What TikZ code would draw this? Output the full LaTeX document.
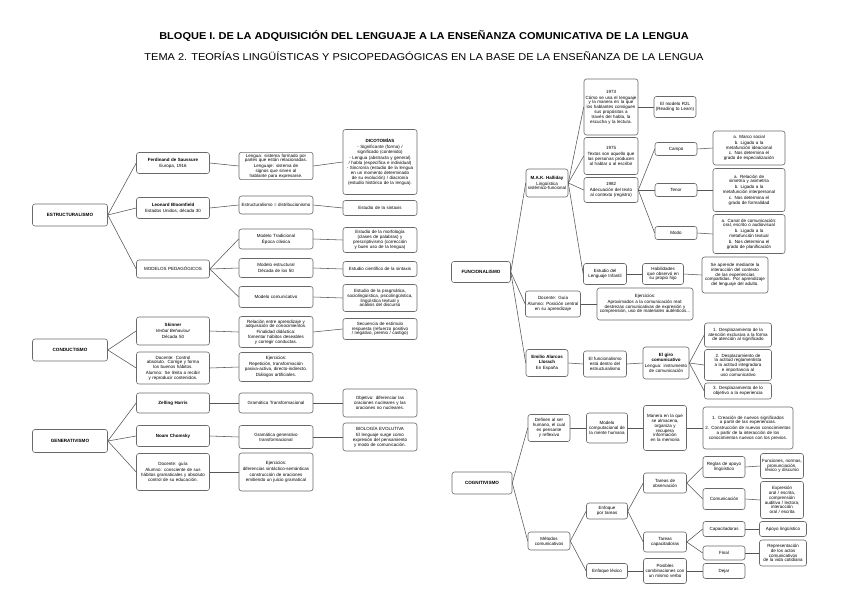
\documentclass[tikz,border=0pt]{standalone}
\usepackage{fontspec}
\setmainfont{Liberation Sans}
\newfontfamily\titulofont{Liberation Sans}[FakeStretch=1.1]
\usetikzlibrary{positioning}
\definecolor{lineagris}{RGB}{85,85,85}
\definecolor{bordegris}{RGB}{105,105,105}
\hyphenpenalty=10000

\tikzset{
    caja/.style={draw=bordegris, line width=0.6pt, rounded corners=2.5pt, fill=white,
        align=center, inner sep=1.5pt, font=\fontsize{4.5}{4.8}\selectfont},
    tronco/.style={caja, font=\fontsize{4.6}{5}\selectfont\bfseries},
    enlace/.style={draw=lineagris, line width=0.55pt},
}

\begin{document}
\begin{tikzpicture}[x=1pt, y=-1pt]
    \useasboundingbox[fill=white] (0,0) rectangle (848,599);

    % titulos
    \node (titulo) at (424,36) {\titulofont\fontsize{10}{11}\selectfont\bfseries BLOQUE I. DE LA ADQUISICIÓN DEL LENGUAJE A LA ENSEÑANZA COMUNICATIVA DE LA LENGUA};
    \node (tema) at (424,56) {\titulofont\fontsize{10}{11}\selectfont TEMA 2. TEORÍAS LINGÜÍSTICAS Y PSICOPEDAGÓGICAS EN LA BASE DE LA ENSEÑANZA DE LA LENGUA};

    % estructuralismo
    \node[tronco, text width=72pt, minimum height=22pt] (estr) at (70,215) {ESTRUCTURALISMO};
    \node[caja, text width=70pt, minimum height=21pt] (saus) at (173,163) {\textbf{Ferdinand de Saussure}\\[1pt] Europa, 1916};
    \node[caja, text width=70pt, minimum height=21pt] (bloom) at (173,208) {\textbf{Leonard Bloomfield}\\[1pt] Estados Unidos, década 30};
    \node[caja, text width=70pt, minimum height=18pt] (model) at (173,269) {MODELOS PEDAGÓGICOS};
    \node[caja, text width=71pt, minimum height=27pt] (lengua) at (276,166) {Lengua: sistema formado por partes que están relacionadas.\\[1pt] Lenguaje: sistema de signos que sirven al hablante para expresarse.};
    \node[caja, text width=71pt, minimum height=65pt] (dicot) at (380,162) {\textbf{DICOTOMÍAS}\\[1pt] - Significante (forma) / significado (contenido)\\[1pt] - Lengua (abstracta y general) / habla (específica e individual)\\[1pt] - Sincronía (estudio de la lengua en un momento determinado de su evolución) / diacronía (estudio histórico de la lengua).};
    \node[caja, text width=71pt, minimum height=18pt] (distr) at (276,205) {Estructuralismo = distribucionismo};
    \node[caja, text width=71pt, minimum height=15pt] (sintax) at (380,208) {Estudio de la sintaxis};
    \node[caja, text width=71pt, minimum height=20pt] (mtrad) at (276,239) {Modelo Tradicional\\[1pt] Época clásica};
    \node[caja, text width=71pt, minimum height=25pt] (morfo) at (380,240) {Estudio de la morfología (clases de palabras) y prescriptivismo (corrección y buen uso de la lengua)};
    \node[caja, text width=71pt, minimum height=19pt] (mestr) at (276,268) {Modelo estructural\\[1pt] Década de los 50};
    \node[caja, text width=71pt, minimum height=15pt] (cient) at (380,269) {Estudio científico de la sintaxis};
    \node[caja, text width=71pt, minimum height=21pt] (mcom) at (276,297) {Modelo comunicativo};
    \node[caja, text width=71pt, minimum height=27pt] (pragm) at (380,298) {Estudio de la pragmática, sociolingüística, psicolingüística, lingüística textual y análisis del discurso};

    % conductismo
    \node[tronco, text width=72pt, minimum height=22pt] (cond) at (70,350) {CONDUCTISMO};
    \node[caja, text width=70pt, minimum height=28pt] (skin) at (173,331) {\textbf{Skinner}\\[1pt] \textit{Verbal Behaviour}\\[1pt] Década 50};
    \node[caja, text width=70pt, minimum height=32pt] (doc1) at (173,368) {Docente: Control absoluto. Corrige y forma los buenos hábitos.\\[1pt] Alumno: Se limita a recibir y reproducir contenidos.};
    \node[caja, text width=71pt, minimum height=31pt] (rel) at (276,332) {Relación entre aprendizaje y adquisición de conocimientos.\\[1pt] Finalidad didáctica: fomentar hábitos deseables y corregir conductas.};
    \node[caja, text width=71pt, minimum height=21pt] (secu) at (380,329) {Secuencia de estímulo respuesta (refuerzo positivo / negativo, premio / castigo)};
    \node[caja, text width=71pt, minimum height=29pt] (ejer1) at (276,367) {Ejercicios:\\[1pt] Repetición, transformación pasiva-activa, directo-indirecto.\\[1pt] Diálogos artificiales.};

    % generativismo
    \node[tronco, text width=72pt, minimum height=23pt] (gener) at (70,441) {GENERATIVISMO};
    \node[caja, text width=70pt, minimum height=20pt] (harr) at (173,403) {\textbf{Zelling Harris}};
    \node[caja, text width=71pt, minimum height=20pt] (gtran) at (276,403) {Gramática Transformacional};
    \node[caja, text width=71pt, minimum height=28pt] (objet) at (380,403) {Objetivo: diferenciar las oraciones nucleares y las oraciones no nucleares.};
    \node[caja, text width=70pt, minimum height=21pt] (chom) at (173,436) {\textbf{Noam Chomsky}};
    \node[caja, text width=71pt, minimum height=23pt] (ggen) at (276,437) {Gramática generativo transformacional};
    \node[caja, text width=71pt, minimum height=28pt] (biol) at (380,437) {BIOLOGÍA EVOLUTIVA\\[1pt] El lenguaje surge como expresión del pensamiento y modo de comunicación.};
    \node[caja, text width=70pt, minimum height=37pt] (doc2) at (173,472) {Docente: guía\\[1pt] Alumno: consciente de sus hábitos gramaticales y absoluto control de su educación.};
    \node[caja, text width=71pt, minimum height=38pt] (ejer2) at (276,472) {Ejercicios:\\[1pt] diferencias sintáctico-semánticas\\[1pt] construcción de oraciones emitiendo un juicio gramatical};

    % funcionalismo
    \node[tronco, text width=56pt, minimum height=21pt] (func) at (481,272) {FUNCIONALISMO};
    \node[caja, text width=39pt, minimum height=28pt] (halli) at (547,183) {\textbf{M.A.K. Halliday}\\[1pt] Lingüística sistémico-funcional};
    \node[caja, text width=51pt, minimum height=56pt] (a1973) at (611,107) {1973\\[1pt] Cómo se usa el lenguaje y la manera en la que los hablantes consiguen sus propósitos a través del habla, la escucha y la lectura.};
    \node[caja, text width=51pt, minimum height=37pt] (a1975) at (611,156) {1975\\[1pt] Textos son aquello que las personas producen al hablar o al escribir};
    \node[caja, text width=51pt, minimum height=25pt] (a1982) at (611,190) {1982\\[1pt] Adecuación del texto al contexto (registro)};
    \node[caja, text width=39pt, minimum height=21pt] (rtl) at (675,107) {El modelo R2L (Reading to Learn)};
    \node[caja, text width=39pt, minimum height=13pt] (campo) at (676,149) {Campo};
    \node[caja, text width=39pt, minimum height=13pt] (tenor) at (676,190) {Tenor};
    \node[caja, text width=39pt, minimum height=13pt] (modo) at (676,233) {Modo};
    \node[caja, text width=69pt, minimum height=34pt] (campoD) at (749,148) {a. Marco social\\[1pt] b. Ligado a la metafunción ideacional\\[1pt] c. Nos determina el grado de especialización};
    \node[caja, text width=69pt, minimum height=43pt] (tenorD) at (749,190) {a. Relación de simetría y asimetría\\[1pt] b. Ligado a la metafunción interpersonal\\[1pt] c. Nos determina el grado de formalidad};
    \node[caja, text width=69pt, minimum height=39pt] (modoD) at (749,234) {a. Canal de comunicación: oral, escrito o audiovisual\\[1pt] b. Ligado a la metafunción textual\\[1pt] b. Nos determina el grado de planificación};
    \node[caja, text width=40pt, minimum height=21pt] (infan) at (605,274) {Estudio del Lenguaje Infantil};
    \node[caja, text width=38pt, minimum height=21pt] (habil) at (663,274) {Habilidades que observó en su propio hijo};
    \node[caja, text width=63pt, minimum height=36pt] (apren) at (735,275) {Se aprende mediante la interacción del contexto de las experiencias compartidas. Por aprendizaje del lenguaje del adulto.};
    \node[caja, text width=52pt, minimum height=26pt] (doc3) at (553,304) {Docente: Guía\\[1pt] Alumno: Posición central en su aprendizaje};
    \node[caja, text width=93pt, minimum height=32pt] (ejer3) at (645,304) {Ejercicios:\\[1pt] Aproximados a la comunicación real: destrezas comunicativas de expresión y comprensión, uso de materiales auténticos...};
    \node[caja, text width=39pt, minimum height=27pt] (alarc) at (547,363) {\textbf{Emilio Alarcos Llorach}\\[1pt] En España};
    \node[caja, text width=40pt, minimum height=26pt] (dentro) at (605,364) {El funcionalismo está dentro del estructuralismo};
    \node[caja, text width=43pt, minimum height=32pt] (giro) at (666,363) {\textbf{El giro comunicativo}\\[1pt] Lengua: instrumento de comunicación};
    \node[caja, text width=64pt, minimum height=24pt] (despl1) at (738,335) {1. Desplazamiento de la atención exclusiva a la forma de atención al significado};
    \node[caja, text width=64pt, minimum height=31pt] (despl2) at (738,365) {2. Desplazamiento de la actitud reglamentista a la actitud integradora e importancia al uso comunicativo};
    \node[caja, text width=64pt, minimum height=16pt] (despl3) at (738,391) {3. Desplazamiento de lo objetivo a la experiencia};

    % cognitivismo
    \node[tronco, text width=57pt, minimum height=22pt] (cogn) at (482,483) {COGNITIVISMO};
    \node[caja, text width=39pt, minimum height=27pt] (defin) at (549,428) {Definen al ser humano, el cual es pensante y reflexivo};
    \node[caja, text width=38pt, minimum height=30pt] (mcomp) at (607,428) {Modelo computacional de la mente humana};
    \node[caja, text width=40pt, minimum height=45pt] (maner) at (665,428) {Manera en la que se almacena, organiza y recupera información en la memoria};
    \node[caja, text width=87pt, minimum height=42pt] (creac) at (748,428) {1. Creación de nuevos significados a partir de las experiencias.\\[1pt] 2. Construcción de nuevos conocimientos a partir de la interacción de los conocimientos nuevos con los previos.};
    \node[caja, text width=39pt, minimum height=18pt] (metod) at (549,541) {Métodos comunicativos};
    \node[caja, text width=38pt, minimum height=16pt] (tareas) at (607,511) {Enfoque por tareas};
    \node[caja, text width=38pt, minimum height=15pt] (lexico) at (607,571) {Enfoque léxico};
    \node[caja, text width=40pt, minimum height=20pt] (tobs) at (665,483) {Tareas de observación};
    \node[caja, text width=40pt, minimum height=20pt] (tcap) at (665,542) {Tareas capacitadoras};
    \node[caja, text width=40pt, minimum height=25pt] (posib) at (665,571) {Posibles combinaciones con un mismo verbo};
    \node[caja, text width=39pt, minimum height=21pt] (reglas) at (724,467) {Reglas de apoyo lingüístico};
    \node[caja, text width=39pt, minimum height=21pt] (comun) at (724,499) {Comunicación};
    \node[caja, text width=39pt, minimum height=15pt] (capac) at (724,529) {Capacitadoras};
    \node[caja, text width=39pt, minimum height=14pt] (final) at (724,553) {Final};
    \node[caja, text width=39pt, minimum height=15pt] (dejar) at (724,571) {Dejar};
    \node[caja, text width=40pt, minimum height=25pt] (funci) at (782,466) {Funciones, normas, pronunciación, léxico y discurso};
    \node[caja, text width=40pt, minimum height=37pt] (expre) at (782,500) {Expresión oral / escrita, comprensión auditiva / lectora, interacción oral / escrita};
    \node[caja, text width=44pt, minimum height=15pt] (apoyo) at (783,529) {Apoyo lingüístico};
    \node[caja, text width=44pt, minimum height=26pt] (repre) at (783,553) {Representación de los actos comunicativos de la vida cotidiana};

    % conexiones
    \foreach \a/\b in {estr/saus, estr/bloom, estr/model, saus/lengua, lengua/dicot,
        bloom/distr, distr/sintax, model/mtrad, model/mestr, model/mcom,
        mtrad/morfo, mestr/cient, mcom/pragm,
        cond/skin, cond/doc1, skin/rel, rel/secu, doc1/ejer1,
        gener/harr, gener/chom, gener/doc2, harr/gtran, gtran/objet,
        chom/ggen, ggen/biol, doc2/ejer2,
        func/halli, func/doc3, func/alarc, halli/a1973, halli/a1975, halli/a1982,
        halli/infan, a1973/rtl, a1982/campo, a1982/tenor, a1982/modo,
        campo/campoD, tenor/tenorD, modo/modoD, infan/habil, habil/apren,
        doc3/ejer3, alarc/dentro, dentro/giro, giro/despl1, giro/despl2, giro/despl3,
        cogn/defin, cogn/metod, defin/mcomp, mcomp/maner, maner/creac,
        metod/tareas, metod/lexico, tareas/tobs, tareas/tcap, lexico/posib,
        tobs/reglas, tobs/comun, reglas/funci, comun/expre,
        tcap/capac, tcap/final, capac/apoyo, final/repre, posib/dejar}
        \draw[enlace] (\a.east) -- (\b.west);
\end{tikzpicture}
\end{document}
